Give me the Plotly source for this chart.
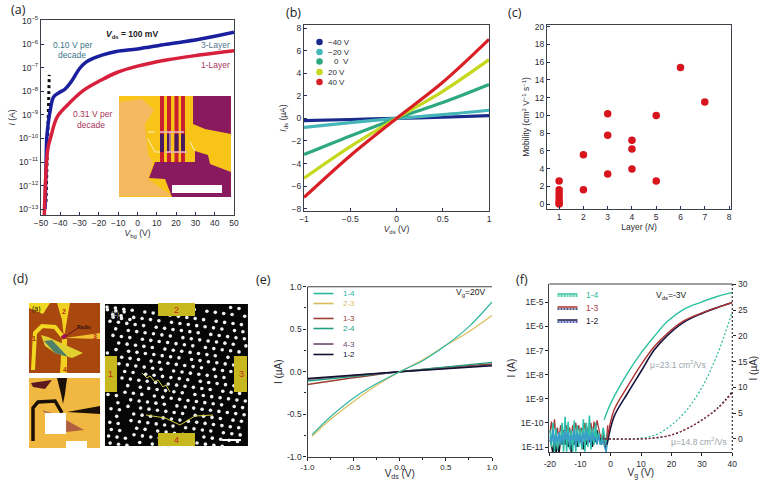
import plotly.graph_objects as go

W, H = 759, 480
FONT = "Liberation Sans"
INK = "#2c2c34"

# ---------- panel (a) ----------
a_blue_v = [-47.9, -47.4, -47.0, -46.0, -45.0, -43.5, -40.5, -37.5, -34.0, -30.0, -26.5, -23.0, -18.0, -11.0, 0.0, 15.0, 32.0, 50.0]
a_blue_log = [-13.0, -11.2, -9.96, -9.2, -8.7, -8.24, -8.05, -7.9, -7.55, -7.03, -6.75, -6.6, -6.45, -6.31, -6.2, -6.0, -5.79, -5.49]
a_red_v = [-48.3, -48.0, -47.2, -46.4, -45.0, -41.7, -36.5, -28.0, -19.0, -11.0, 0.0, 15.0, 32.0, 50.0]
a_red_log = [-13.3, -12.5, -11.1, -10.4, -9.96, -9.1, -8.6, -7.96, -7.53, -7.21, -6.93, -6.67, -6.46, -6.27]
a_slope_v = [-47.4, -45.7]
a_slope_log = [-12.7, -7.3]
a_yticks = [-5, -6, -7, -8, -9, -10, -11, -12, -13]

# ---------- panel (b) ----------
b_v = [-1, -0.5, 0, 0.5, 1]
b_series = ["−40 V", "−20 V", "0  V", "20 V", "40 V"]
b_colors = ["#1a2a8c", "#45b5b8", "#2ea87e", "#c6d81e", "#d81f26"]
b_i_m40 = [-0.2, -0.1, 0, 0.1, 0.25]
b_i_m20 = [-0.8, -0.38, 0, 0.33, 0.72]
b_i_0 = [-3.2, -1.55, 0, 1.4, 3.0]
b_i_20 = [-5.3, -2.5, 0, 2.4, 5.2]
b_i_40 = [-7.0, -3.3, 0, 3.2, 7.0]

# ---------- panel (c) ----------
c_layer = [1, 1, 1, 1, 1, 1, 1, 2, 2, 3, 3, 3, 4, 4, 4, 5, 5, 6, 7]
c_mobility = [2.6, 1.6, 1.2, 0.8, 0.4, 0.1, 0.0, 5.55, 1.6, 10.2, 7.75, 3.4, 7.2, 6.2, 3.95, 10.0, 2.6, 15.4, 11.5]

# ---------- panel (e) ----------
e_v_curved = [-0.95, -0.75, -0.5, -0.25, 0, 0.25, 0.5, 0.75, 1]
e_14 = [-0.74, -0.53, -0.31, -0.14, 0, 0.13, 0.31, 0.53, 0.82]
e_23 = [-0.76, -0.56, -0.35, -0.16, 0, 0.14, 0.31, 0.47, 0.66]
e_v_line = [-1, 0, 1]
e_13 = [-0.15, 0, 0.09]
e_24 = [-0.11, 0, 0.11]
e_43 = [-0.09, 0, 0.08]
e_12 = [-0.08, 0, 0.07]
e_names = ["1-4", "2-3", "1-3", "2-4", "4-3", "1-2"]
e_colors = ["#2fb8a0", "#d8bc5c", "#9a4030", "#20a080", "#6a4a6a", "#101030"]

# ---------- panel (f) ----------
f_v = [-2.2, 0, 5.5, 9.9, 14.3, 18.6, 24, 29.6, 35, 40]
f_log_14 = [-9.88, -9.19, -7.95, -7.12, -6.42, -5.8, -5.29, -5.0, -4.76, -4.59]
f_v2 = [-1.2, 1.1, 5.5, 9.9, 14.3, 18.6, 24, 29.6, 35, 40]
f_log_13 = [-10.7, -9.47, -8.5, -7.6, -6.84, -6.29, -5.77, -5.46, -5.22, -5.01]
f_log_12 = [-10.9, -9.74, -8.78, -7.88, -6.98, -6.38, -5.83, -5.48, -5.22, -5.01]
f_noise_v = [-20, -19.5, -19, -18.5, -18, -17.5, -17, -16.5, -16, -15.5, -15, -14.5, -14, -13.5, -13, -12.5, -12, -11.5, -11, -10.5, -10, -9.5, -9, -8.5, -8, -7.5, -7, -6.5, -6, -5.5, -5, -4.5, -4, -3.5, -3, -2.5, -2, -1.5, -1]
f_noise_black = [-10.7, -10.9, -11.3, -10.6, -11.3, -10.8, -11.3, -10.7, -10.9, -10.6, -10.9, -10.5, -11.0, -10.7, -11.2, -10.6, -10.9, -10.6, -11.0, -10.5, -10.8, -10.6, -11.1, -10.5, -10.9, -10.6, -10.8, -10.4, -11.0, -10.5, -10.8, -10.3, -10.7, -10.6, -10.9, -10.5, -10.9, -11.1, -10.4]
f_noise_red = [-10.4, -9.95, -10.5, -9.85, -10.6, -10.2, -10.7, -10.1, -10.5, -10.3, -10.6, -10.1, -10.5, -10.2, -10.6, -10.1, -10.5, -10.0, -10.4, -10.1, -10.5, -10.2, -10.4, -10.0, -10.5, -10.2, -10.3, -10.0, -10.5, -9.95, -10.3, -9.9, -10.2, -10.5, -10.6, -10.4, -10.8, -10.95, -10.1]
f_noise_blue = [-10.6, -10.8, -10.3, -10.9, -10.5, -10.8, -10.4, -10.9, -10.5, -10.8, -10.3, -10.7, -10.4, -10.9, -10.5, -10.7, -10.3, -11.0, -10.4, -10.8, -10.5, -10.9, -10.4, -10.7, -10.3, -10.8, -10.5, -10.9, -10.4, -10.7, -10.6, -10.9, -10.5, -10.8, -10.9, -10.7, -11.0, -11.2, -10.6]
f_noise_teal = [-10.3, -11.0, -10.0, -11.2, -10.2, -11.1, -10.4, -10.9, -10.0, -11.2, -9.75, -11.2, -9.95, -11.1, -10.3, -11.2, -9.9, -11.2, -10.1, -11.0, -10.2, -11.1, -9.85, -11.2, -10.0, -11.0, -9.7, -11.1, -10.2, -10.9, -10.0, -10.8, -10.4, -10.9, -10.8, -10.2, -10.6, -10.9, -10.4]
f_lin_v = [-2, 10, 15.4, 20, 25, 30, 35, 40]
f_lin_14 = [0, 0.15, 0.97, 2.7, 5.6, 10, 16.3, 24.7]
f_lin_v2 = [-2, 10, 15, 20, 25, 30, 35, 40]
f_lin_13 = [0, 0, 0.25, 0.8, 2.0, 3.7, 5.8, 8.9]
f_lin_12 = [0, 0, 0.22, 0.75, 1.95, 3.65, 5.9, 9.2]
f_names = ["1-4", "1-3", "1-2"]

# ---------- photographic panel (d): white dots read row by row, 'o' = dot ----------
d_dots = [
    "o.o.o.o..o.o.o.o.o.o.o.o..o.o.o.o",
    ".o.o..o.o.o.o..o.o.o.o.o.o.o..o.o",
    "o.o.o.o.o..o.o.o.o.o.o..o.o.o.o.o",
    ".o..o.o.o.o.o.o..o.o.o.o.o.o.o..o",
    "o.o.o..o.o.o.o.o.o.o..o.o.o.o.o.o",
    ".o.o.o.o.o..o.o.o.o.o.o.o..o.o.o.",
    "o..o.o.o.o.o.o.o..o.o.o.o.o.o.o.o",
    ".o.o.o..o.o.o.o.o.o.o..o.o.o.o..o",
    "o.o.o.o.o.o..o.o.o.o.o.o.o..o.o.o",
    ".o.o..o.o.o.o.o.o..o.o.o.o.o.o.o.",
    "o.o.o.o.o..o.o.o.o.o.o..o.o.o.o.o",
    ".o..o.o.o.o.o.o..o.o.o.o.o.o.o..o",
    "o.o.o..o.o.o.o.o.o.o.o.o..o.o.o.o",
    ".o.o.o.o.o..o.o.o.o.o.o.o.o.o..o.",
    "o..o.o.o.o.o.o..o.o.o.o..o.o.o.o.",
    ".o.o.o..o.o.o.o.o.o.o.o.o.o..o.o.",
    "o.o.o.o.o.o..o.o.o.o..o.o.o.o.o.o",
    ".o.o..o.o.o.o.o..o.o.o.o.o..o.o.o",
    "o.o.o.o.o..o.o.o.o.o.o.o.o.o.o.o.",
    ".o..o.o.o.o.o.o..o.o.o.o..o.o.o.o",
]


def dx(l, r):
    return [l / W, r / W]


def dy(t, b):
    return [1 - b / H, 1 - t / H]


def px(x):
    return x / W


def py(y):
    return 1 - y / H


shapes = []
annos = []


def poly(points, fill, layer="above"):
    path = "M " + " L ".join(f"{px(x):.4f},{py(y):.4f}" for x, y in points) + " Z"
    shapes.append(dict(type="path", path=path, xref="paper", yref="paper", fillcolor=fill,
                       line=dict(width=0), layer=layer))


def rect(x0, y0, x1, y1, fill, layer="above"):
    poly([(x0, y0), (x1, y0), (x1, y1), (x0, y1)], fill, layer)


def stroke(points, color, width, dash="solid", layer="above"):
    path = "M " + " L ".join(f"{px(x):.4f},{py(y):.4f}" for x, y in points)
    shapes.append(dict(type="path", path=path, xref="paper", yref="paper",
                       line=dict(color=color, width=width, dash=dash), layer=layer))


def text(x, y, s, size=9, color=INK, angle=0, anchor="center", family=FONT):
    annos.append(dict(x=px(x), y=py(y), xref="paper", yref="paper", text=s, showarrow=False,
                      font=dict(size=size, color=color, family=family), textangle=angle,
                      xanchor=anchor, yanchor="middle"))


fig = go.Figure()


def line(xv, yv, color, width, xa, ya, dash="solid"):
    fig.add_trace(go.Scatter(x=xv, y=yv, mode="lines", xaxis=xa, yaxis=ya, showlegend=False,
                             line=dict(color=color, width=width, dash=dash, shape="spline", smoothing=1.0),
                             hoverinfo="skip"))


def p10(vals):
    return [10.0 ** v for v in vals]


# (a)
fig.add_trace(go.Scatter(x=a_slope_v, y=p10(a_slope_log), mode="lines", xaxis="x", yaxis="y", showlegend=False,
                         line=dict(color="#101010", width=3, dash="dot")))
line(a_blue_v, p10(a_blue_log), "#1a1f9e", 3.5, "x", "y")
line(a_red_v, p10(a_red_log), "#d6203c", 3.5, "x", "y")

# (b)
for yv, c in zip([b_i_m40, b_i_m20, b_i_0, b_i_20, b_i_40], b_colors):
    line(b_v, yv, c, 3.2, "x2", "y2")

# (c)
fig.add_trace(go.Scatter(x=c_layer, y=c_mobility, mode="markers", xaxis="x3", yaxis="y3", showlegend=False,
                         cliponaxis=False, marker=dict(color="#d8141c", size=7.5)))

# (e)
for yv, c in [(e_13, e_colors[2]), (e_24, e_colors[3]), (e_43, e_colors[4]), (e_12, e_colors[5])]:
    line(e_v_line, yv, c, 1.4, "x4", "y4")
line(e_v_curved, e_23, e_colors[1], 1.2, "x4", "y4")
line(e_v_curved, e_14, e_colors[0], 1.2, "x4", "y4")

# (f) noise + log curves
fig.add_trace(go.Scatter(x=f_noise_v, y=p10(f_noise_black), mode="lines", xaxis="x5", yaxis="y5", showlegend=False,
                         line=dict(color="#101020", width=1.4)))
fig.add_trace(go.Scatter(x=f_noise_v, y=p10(f_noise_red), mode="lines", xaxis="x5", yaxis="y5", showlegend=False,
                         line=dict(color="#a83838", width=1.3)))
fig.add_trace(go.Scatter(x=f_noise_v, y=p10(f_noise_teal), mode="lines", xaxis="x5", yaxis="y5", showlegend=False,
                         line=dict(color="#2cc0a8", width=1.6)))
fig.add_trace(go.Scatter(x=f_noise_v, y=p10(f_noise_blue), mode="lines", xaxis="x5", yaxis="y5", showlegend=False,
                         line=dict(color="#3a9cc8", width=1.6)))
line(f_v, p10(f_log_14), "#2cc0a0", 1.4, "x5", "y5")
line(f_v2, p10(f_log_12), "#141440", 1.6, "x5", "y5")
line(f_v2, p10(f_log_13), "#b03030", 1.4, "x5", "y5")
line(f_lin_v, f_lin_14, "#2cb89c", 1.2, "x5", "y6", dash="2px,2px")
line(f_lin_v2, f_lin_12, "#141440", 1.3, "x5", "y6", dash="2px,2px")
line(f_lin_v2, f_lin_13, "#a83838", 1.1, "x5", "y6", dash="2px,2px")

# (d) lattice dots on a hidden pixel axis, above the black shape (tilted like the photo's lattice)
dot_x, dot_y = [], []
for r, row in enumerate(d_dots):
    for c, ch in enumerate(row):
        if ch == "o":
            dot_x.append(107 + (c * 4.2 + r * 1.5) % 140)
            dot_y.append(307 + (r * 7.1 + c * 0.55) % 140)
fig.add_trace(go.Scatter(x=dot_x, y=dot_y, mode="markers", xaxis="x6", yaxis="y7", showlegend=False,
                         marker=dict(color="#eef2f2", size=3.6)))

axis_base = dict(showline=True, linecolor="#3c4048", linewidth=1.2, mirror=True, showgrid=False, zeroline=False,
                 ticks="inside", ticklen=2.5, tickcolor="#24305a", tickwidth=1,
                 tickfont=dict(size=8.5, color=INK, family=FONT), title_font=dict(size=8.5, color=INK, family=FONT))


def ax(**kw):
    d = dict(axis_base)
    d.update(kw)
    return d


fig.update_layout(
    width=W, height=H, margin=dict(l=0, r=0, t=0, b=0, pad=0, autoexpand=False), paper_bgcolor="white", plot_bgcolor="rgba(0,0,0,0)",
    showlegend=False, font=dict(family=FONT, color=INK),
    xaxis=ax(domain=dx(41, 234), range=[-50, 50], anchor="y", tickvals=[-50, -40, -30, -20, -10, 0, 10, 20, 30, 40, 50],
             title=dict(text="<i>V</i><sub>bg</sub> (V)", standoff=2)),
    yaxis=ax(domain=dy(20, 215), type="log", range=[-13.25, -4.97], anchor="x", tickvals=p10(a_yticks),
             ticktext=[f"10<sup>{str(v).replace('-', '−')}</sup>" for v in a_yticks], title=dict(text="<i>I</i> (A)", standoff=1)),
    xaxis2=ax(domain=dx(304, 489), range=[-1, 1], anchor="y2", tickvals=[-1, -0.5, 0, 0.5, 1],
              ticktext=["−1", "−0.5", "0", "0.5", "1"], title=dict(text="<i>V</i><sub>ds</sub> (V)", standoff=2)),
    yaxis2=ax(domain=dy(25, 211), range=[-8.2, 8.27], anchor="x2", tickvals=[-8, -6, -4, -2, 0, 2, 4, 6, 8],
              title=dict(text="<i>I</i><sub>ds</sub> (µA)", standoff=3)),
    xaxis3=ax(domain=dx(547, 731), range=[0.5, 8.08], anchor="y3", tickvals=[1, 2, 3, 4, 5, 6, 7, 8],
              title=dict(text="Layer (<i>N</i>)", standoff=2)),
    yaxis3=ax(domain=dy(25, 209), range=[-0.56, 20.2], anchor="x3", tickvals=list(range(0, 21, 2)),
              title=dict(text="Mobility (cm<sup>2</sup> V<sup>−1</sup> s<sup>−1</sup>)", standoff=3)),
    xaxis4=ax(domain=dx(307.5, 492), range=[-1, 1], anchor="y4", mirror=False, ticks="outside", ticklen=3,
              tickcolor="#222", tickvals=[-1, -0.5, 0, 0.5, 1], ticktext=["-1.0", "-0.5", "0.0", "0.5", "1.0"],
              minor=dict(tickvals=[-0.75, -0.25, 0.25, 0.75], ticks="outside", ticklen=2, tickcolor="#222"),
              tickfont=dict(size=8, color="#222", family=FONT), title=dict(text="V<sub>ds</sub> (V)", standoff=0, font=dict(size=10))),
    yaxis4=ax(domain=dy(286.7, 456.7), range=[-1, 1], anchor="x4", mirror=False, ticks="outside", ticklen=3,
              tickcolor="#222", tickvals=[-1, -0.5, 0, 0.5, 1], ticktext=["-1.0", "-0.5", "0.0", "0.5", "1.0"],
              minor=dict(tickvals=[-0.75, -0.25, 0.25, 0.75], ticks="outside", ticklen=2, tickcolor="#222"),
              title=dict(text="I (µA)", standoff=2, font=dict(size=10))),
    xaxis5=ax(domain=dx(549.3, 732.3), range=[-20.2, 40], anchor="y5", mirror=False, ticks="outside", ticklen=3,
              tickcolor="#222", tickvals=[-20, -10, 0, 10, 20, 30, 40], ticktext=["-20", "-10", "0", "10", "20", "30", "40"],
              title=dict(text="V<sub>g</sub> (V)", standoff=0, font=dict(size=10))),
    yaxis5=ax(domain=dy(284, 452.3), type="log", range=[-11.22, -4.24], anchor="x5", mirror=False, ticks="outside", ticklen=3,
              tickcolor="#222", tickvals=p10([-5, -6, -7, -8, -9, -10, -11]),
              ticktext=["1E-5", "1E-6", "1E-7", "1E-8", "1E-9", "1E-10", "1E-11"],
              title=dict(text="I (A)", standoff=3, font=dict(size=10))),
    yaxis6=ax(domain=dy(284, 452.3), range=[-2.6, 30.1], anchor="x5", overlaying="y5", side="right", mirror=False,
              showline=False, ticks="outside", ticklen=3, tickcolor="#222", tickvals=[0, 5, 10, 15, 20, 25, 30],
              title=dict(text="I (µA)", standoff=3, font=dict(size=10))),
    xaxis6=dict(domain=[0, 1], range=[0, W], visible=False, anchor="y7", fixedrange=True),
    yaxis7=dict(domain=[0, 1], range=[H, 0], visible=False, anchor="x6", fixedrange=True),
)

# extra axis lines: (e) top, (f) top + dashed right
stroke([(307.5, 286.7), (492, 286.7)], "#3c4048", 1.1)
stroke([(549.3, 284), (732.3, 284)], "#3c4048", 1.1)
stroke([(732.3, 284), (732.3, 452.3)], "#222222", 1.1, dash="2px,2px")

# panel letters
for x, y, s in [(18, 9, "(a)"), (293, 12, "(b)"), (515, 12, "(c)"), (20, 278, "(d)"), (263, 279, "(e)"), (522, 279, "(f)")]:
    text(x, y, s, size=12.5, color="#222222", family="Open Sans")

# (a) annotations
text(132, 35, "<b><i>V</i><sub>ds</sub> = 100 mV</b>", 8.5, "#1c1c24")
text(72, 45, "0.10 V per", 8.5, "#3c7488")
text(72, 55, "decade", 8.5, "#3c7488")
text(92, 114, "0.31 V per", 8.5, "#a83458")
text(91, 124.5, "decade", 8.5, "#a83458")
text(215, 45, "3-Layer", 8.5, "#54748c")
text(215, 65, "1-Layer", 8.5, "#a83458")

# (a) inset photo
rect(119, 96, 231, 197, "#f8c418")
poly([(119, 102), (142, 99), (154, 110), (145, 124), (148, 155), (153, 162), (148, 179), (172, 196), (119, 196)], "#f4b860")
poly([(193, 96), (231, 96), (231, 134), (205, 129), (193, 124)], "#8a1a60")
poly([(155, 162), (195, 162), (195, 151), (208, 155), (210, 164), (231, 172), (231, 197), (172, 197), (165, 179), (149, 178)], "#8a1a60")
for x0 in [160, 167, 174.5, 181]:
    rect(x0, 96, x0 + 4, 162, "#c82030")
    rect(x0, 134, x0 + 4, 152, "#4a1a60")
rect(172, 185, 222, 193, "#ffffff")
stroke([(160, 132), (184, 132)], "#eab4c4", 1.6)
stroke([(165, 152), (187, 152)], "#eab4c4", 1.6)
stroke([(170, 132), (170, 152)], "#eab4c4", 1.2)
stroke([(148, 132), (155, 132)], "#f4f0c0", 1)
stroke([(148, 139), (155, 152), (160, 152)], "#f4f0c0", 1)
stroke([(190, 142), (195, 151)], "#f4f0c0", 1)

# (b) legend
b_leg_y = [42, 52, 61.5, 72, 82]
for yy, name, c in zip(b_leg_y, b_series, b_colors):
    fig.add_trace(go.Scatter(x=[319.5], y=[yy], mode="markers", xaxis="x6", yaxis="y7", showlegend=False,
                             marker=dict(color=c, size=6.5)))
    text(326 if "0  V" not in name else 332, yy, name, 8, INK, anchor="left")

# (e) legend + note
e_leg_y = [293.5, 303.5, 318.5, 328.5, 344, 354.5]
for yy, name, c in zip(e_leg_y, e_names, e_colors):
    stroke([(313.5, yy), (333.5, yy)], c, 1.6)
    text(341, yy, name, 8, c, anchor="left")
text(470, 292, "V<sub>g</sub>=20V", 8.5, "#222222")

# (f) legend + notes
f_leg_y = [295, 308, 321]
f_leg_c = [("#2cc0a0", "#2cc0a0"), ("#b03030", "#142050"), ("#141440", "#2030a0")]
f_leg_t = ["#2cb89c", "#a83838", "#1c1c30"]
for yy, name, (c1, c2), tc in zip(f_leg_y, f_names, f_leg_c, f_leg_t):
    stroke([(557.5, yy - 1), (577.5, yy - 1)], c1, 1.5)
    stroke([(557.5, yy + 1), (577.5, yy + 1)], c2, 1.5, dash="2px,1px")
    text(584, yy, name, 8.5, tc, anchor="left")
text(671, 295, "V<sub>ds</sub>=-3V", 8.5, "#222222")
text(678, 364, "μ=23.1 cm<sup>2</sup>/Vs", 8.5, "#9aa4aa", anchor="center")
text(699, 441, "μ=14.8 cm<sup>2</sup>/Vs", 8.5, "#9aa4aa", anchor="center")

# (d) photo 1
rect(29, 303, 100, 373, "#a8480f")
poly([(29, 303), (50, 303), (43, 314), (29, 308)], "#f0d820")
stroke([(33, 370), (35, 333), (42, 326), (55, 327), (63, 337)], "#f2d820", 4)
poly([(57, 303), (70, 303), (67, 320), (64, 338), (62, 320)], "#f2d020")
poly([(65, 338), (100, 333), (100, 339)], "#f2c030")
poly([(62, 339), (67, 339), (67, 373), (60, 373)], "#f2d020")
poly([(41, 335), (48, 337), (83, 353), (72, 358), (55, 353), (45, 346)], "#e0d030")
poly([(44, 341), (55, 353), (68, 357), (52, 340)], "#50806a")
stroke([(62, 338), (66, 335)], "#a01050", 4)
stroke([(66, 336), (78, 328)], "#701020", 1)
text(84, 327, "<b>Radio</b>", 5, "#301010")
for x, y, s in [(34, 338, "1"), (64, 311, "2"), (95, 336, "3"), (65, 369, "4")]:
    text(x, y, f"<b>{s}</b>", 7, "#b03010")
text(36, 309, "(a)", 7, "#201000")

# (d) photo 2
rect(29, 378, 100, 448, "#f0b840")
poly([(31, 383), (52, 380), (45, 389), (33, 387)], "#5a1a20")
stroke([(33, 441), (33, 408), (38, 402), (55, 401), (62, 413)], "#1a1008", 3.5)
poly([(57, 378), (67, 378), (65, 394), (63, 404), (61, 394)], "#1a1008")
poly([(67, 412), (100, 406), (100, 414)], "#1a1008")
poly([(42, 410), (53, 413), (46, 414)], "#b87848")
poly([(66, 420), (84, 430), (66, 432)], "#b06040")
rect(45, 413, 66, 434, "#ffffff")
rect(66, 441, 87, 450, "#ffffff")

# (d) lattice photo
rect(105, 304, 248, 446, "#060606", layer="below")
rect(158, 303, 195, 316, "#c8b820")
rect(158, 433, 195, 446, "#c8b820")
rect(105, 356, 117, 392, "#c8b820")
rect(234, 356, 247, 392, "#c8b820")
for x, y, s in [(176, 310, "2"), (176, 440, "4"), (110, 374, "1"), (241, 374, "3")]:
    text(x, y, s, 9, "#c02818")
text(115, 314, "(c)", 7, "#b0b8b8")
rect(222, 439, 241, 441, "#ffffff")
stroke([(142, 373), (147, 378), (150, 376), (155, 382), (158, 380), (163, 387), (166, 385), (170, 392)], "#d8d040", 1)
stroke([(146, 415), (165, 418), (180, 425), (195, 416), (213, 415)], "#d8d040", 1)

fig.update_layout(shapes=shapes, annotations=annos)
fig.write_html("out.html", config=dict(displayModeBar=False),
               post_script="document.body.style.margin='0';document.body.style.overflow='hidden';")
